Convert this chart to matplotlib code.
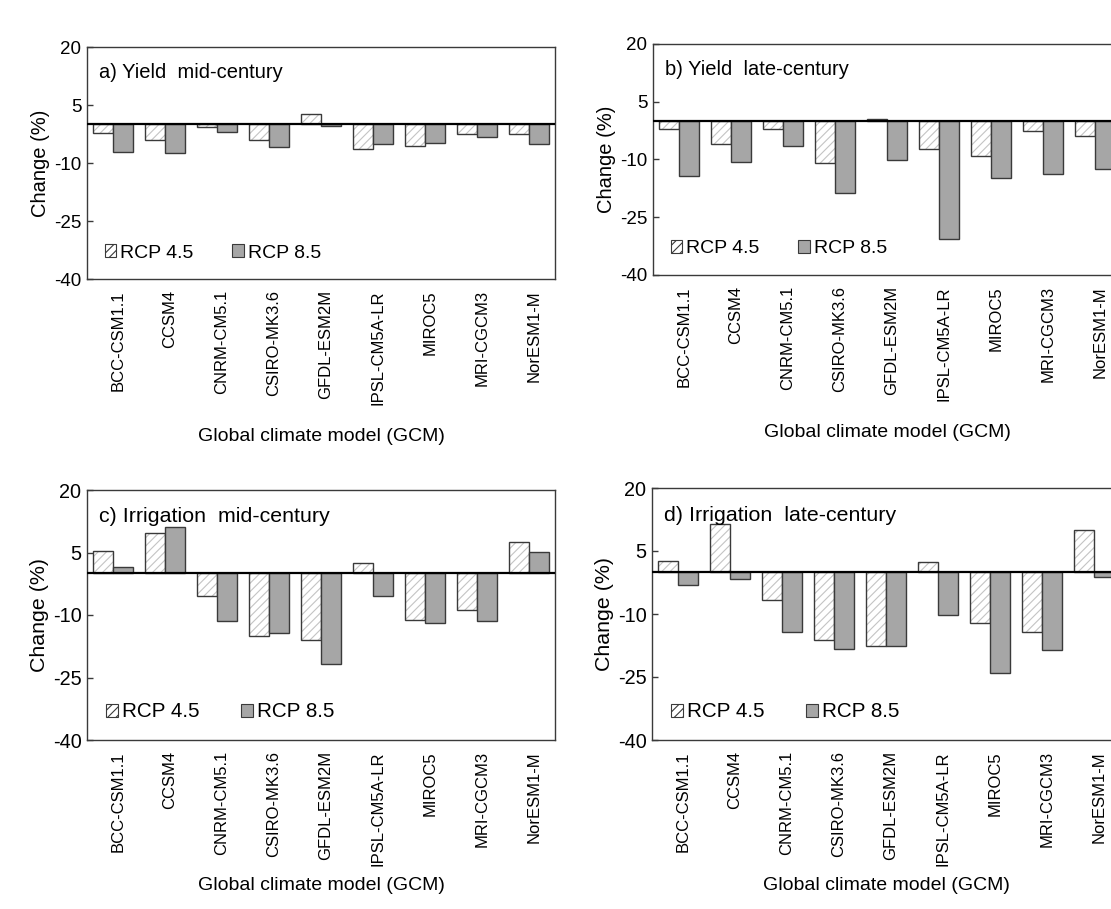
import matplotlib
matplotlib.use("Agg")
import matplotlib.pyplot as plt
import matplotlib.transforms as mtransforms
import numpy as np

plt.rcParams['font.family'] = ['Liberation Sans', 'DejaVu Sans']
plt.rcParams['hatch.linewidth'] = 0.8
plt.rcParams['axes.unicode_minus'] = False

gcms = ["BCC-CSM1.1", "CCSM4", "CNRM-CM5.1", "CSIRO-MK3.6", "GFDL-ESM2M",
        "IPSL-CM5A-LR", "MIROC5", "MRI-CGCM3", "NorESM1-M"]

yield_mid_45 = [-2.2, -4.1, -0.8, -4.1, 2.8, -6.4, -5.7, -2.6, -2.6]
yield_mid_85 = [-7.1, -7.5, -2.1, -5.9, -0.5, -5.2, -4.7, -3.4, -5.2]
yield_late_45 = [-2.2, -5.9, -2.2, -11.0, 0.4, -7.4, -9.2, -2.5, -3.9]
yield_late_85 = [-14.2, -10.6, -6.6, -18.7, -10.2, -30.6, -14.9, -13.7, -12.5]
irr_mid_45 = [5.4, 9.7, -5.4, -15.0, -15.9, 2.6, -11.1, -8.8, 7.6]
irr_mid_85 = [1.5, 11.2, -11.4, -14.2, -21.8, -5.4, -12.0, -11.4, 5.1]
irr_late_45 = [2.7, 11.4, -6.7, -16.3, -17.6, 2.5, -12.2, -14.3, 10.0]
irr_late_85 = [-3.0, -1.6, -14.3, -18.4, -17.6, -10.3, -24.1, -18.6, -1.2]

titles = ["a) Yield  mid-century", "b) Yield  late-century",
          "c) Irrigation  mid-century", "d) Irrigation  late-century"]
yticks = [20, 5, -10, -25, -40]
series_labels = ["RCP 4.5", "RCP 8.5"]

W, H = 1111, 909
fig = plt.figure(figsize=(W / 100, H / 100), dpi=100)

# (left, right, top, bottom) in pixels
boxes = [(87, 555, 47, 279), (653, 1121, 44, 275),
         (87, 555, 490, 740), (652, 1120, 488, 740)]
scales = [1.0, 1.0, 1.06, 1.06]
xlabel_pads = [17, 17, 8, 8]
data = [(yield_mid_45, yield_mid_85), (yield_late_45, yield_late_85),
        (irr_mid_45, irr_mid_85), (irr_late_45, irr_late_85)]

edge = "#3a3a3a"
fill85 = "#a6a6a6"
hatchc = "#c4c4c4"
bw = 0.38

for (l, r, t, b), (v45, v85), title, sc, xpad in zip(boxes, data, titles,
                                                      scales, xlabel_pads):
    ax = fig.add_axes([l / W, 1 - b / H, (r - l) / W, (b - t) / H])
    x = np.arange(len(gcms))
    ax.bar(x - bw / 2, v45, bw, color="white", edgecolor=hatchc, hatch="////",
           linewidth=0, zorder=2)
    ax.bar(x - bw / 2, v45, bw, fill=False, edgecolor=edge, linewidth=1.0, zorder=3)
    ax.bar(x + bw / 2, v85, bw, color=fill85, edgecolor=edge, linewidth=1.0, zorder=3)
    ax.axhline(0, color="black", linewidth=1.6, zorder=4)
    ax.set_xlim(-0.5, len(gcms) - 0.5)
    ax.set_ylim(-40, 20)
    ax.set_yticks(yticks)
    ax.tick_params(axis="y", direction="in", length=4, width=1, color=edge,
                   labelsize=13.5 * sc, pad=4)
    ax.set_xticks(x)
    ax.set_xticklabels(gcms, rotation=90, fontsize=12)
    ax.tick_params(axis="x", length=0, pad=8)
    offset = mtransforms.ScaledTranslation(5 / 100, 0, fig.dpi_scale_trans)
    for lab in ax.get_xticklabels():
        lab.set_transform(lab.get_transform() + offset)
    for s in ax.spines.values():
        s.set_color(edge)
        s.set_linewidth(1.0)
    ax.set_ylabel("Change (%)", fontsize=14.5 * sc, labelpad=3)
    ax.set_xlabel("Global climate model (GCM)", fontsize=14, labelpad=xpad)
    ax.text(0.025, 0.93, title, transform=ax.transAxes, fontsize=14.5 * sc,
            va="top", ha="left")
    h1 = plt.Rectangle((0, 0), 1, 1, facecolor="white", edgecolor=edge,
                       hatch="////", linewidth=0.8)
    h2 = plt.Rectangle((0, 0), 1, 1, facecolor=fill85, edgecolor=edge,
                       linewidth=0.8)
    ax.legend([h1, h2], series_labels, loc="lower left", ncol=2, frameon=False,
              fontsize=14 * sc, handlelength=0.6, handleheight=0.6,
              handletextpad=0.2, columnspacing=2.0,
              bbox_to_anchor=(0.0, 0.0))

fig.savefig("out.png", dpi=100)
